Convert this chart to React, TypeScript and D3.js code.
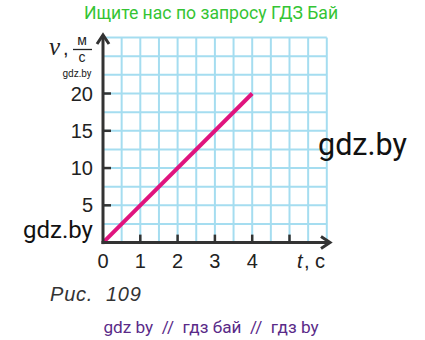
import React from "react";
import * as d3 from "d3";

const tValues = [0, 4];
const vValues = [0, 20];
const xTickLabels = [0, 1, 2, 3, 4];
const xTickMarks = [1, 2, 3, 4, 5];
const yTickValues = [5, 10, 15, 20];
const gridStep = [0.5, 2.5];
const xDomain = [0, 6];
const yDomain = [0, 27.5];

const W = 425;
const H = 340;

export default function App() {
  const x = d3.scaleLinear().domain(xDomain).range([103, 326.8]);
  const y = d3.scaleLinear().domain(yDomain).range([242.6, 37.6]);
  const vLinesX = d3.range(xDomain[0] + gridStep[0], xDomain[1] + 1e-6, gridStep[0]);
  const hLinesY = d3.range(yDomain[0] + gridStep[1], yDomain[1] + 1e-6, gridStep[1]);
  const line = d3
    .line<number>()
    .x((_, i) => x(tValues[i]))
    .y((d) => y(d));
  const x0 = x(0);
  const y0 = y(0);
  const grid = "#a5ddf0";
  const axis = "#333333";
  const tickFont = "'Liberation Sans', Arial, sans-serif";
  return (
    <svg
      width={W}
      height={H}
      style={{ position: "absolute", left: 0, top: 0, background: "#fff" }}
    >
      <rect width={W} height={H} fill="#fff" />
      <text
        x={211}
        y={19}
        textAnchor="middle"
        fontFamily="Roboto, sans-serif"
        fontSize={17.6}
        fill="#34c434"
      >
        Ищите нас по запросу ГДЗ Бай
      </text>
      {/* grid */}
      {vLinesX.map((v) => (
        <line key={"v" + v} x1={x(v)} x2={x(v)} y1={y(yDomain[1])} y2={y0} stroke={grid} strokeWidth={2} />
      ))}
      {hLinesY.map((v) => (
        <line key={"h" + v} x1={x0} x2={x(xDomain[1])} y1={y(v)} y2={y(v)} stroke={grid} strokeWidth={2} />
      ))}
      {/* data line */}
      <path d={line(vValues) || ""} stroke="#e0147e" strokeWidth={4} fill="none" strokeLinecap="butt" />
      {/* axes */}
      <line x1={x0} x2={x0} y1={y0 + 1.5} y2={35} stroke={axis} strokeWidth={3} />
      <path d={`M${x0 - 6},${44} L${x0},${35} L${x0 + 6},${44}`} stroke={axis} strokeWidth={3} fill="none" />
      <line x1={x0 - 1.5} x2={329} y1={y0} y2={y0} stroke={axis} strokeWidth={3} />
      <path d={`M${321},${y0 - 6} L${330},${y0} L${321},${y0 + 6}`} stroke={axis} strokeWidth={3} fill="none" />
      {yTickValues.map((v) => (
        <line key={"yt" + v} x1={x0} x2={x0 + 8} y1={y(v)} y2={y(v)} stroke={axis} strokeWidth={2.5} />
      ))}
      {xTickMarks.map((v) => (
        <line key={"xt" + v} x1={x(v)} x2={x(v)} y1={y0} y2={y0 - 8} stroke={axis} strokeWidth={2.5} />
      ))}
      {yTickValues.map((v) => (
        <text key={"yl" + v} x={93} y={y(v) + 7} textAnchor="end" fontFamily={tickFont} fontSize={20} fill="#222">
          {v}
        </text>
      ))}
      {xTickLabels.map((v) => (
        <text key={"xl" + v} x={x(v)} y={268} textAnchor="middle" fontFamily={tickFont} fontSize={20} fill="#222">
          {v}
        </text>
      ))}
      {/* y axis label */}
      <text x={49} y={55} fontFamily="'Liberation Serif', serif" fontStyle="italic" fontSize={25} fill="#222">
        v
      </text>
      <text x={63} y={55} fontFamily={tickFont} fontSize={20} fill="#222">
        ,
      </text>
      <text x={82} y={45} textAnchor="middle" fontFamily={tickFont} fontSize={14} fill="#222">
        м
      </text>
      <line x1={73} x2={92} y1={49.5} y2={49.5} stroke="#222" strokeWidth={1.3} />
      <text x={82} y={62} textAnchor="middle" fontFamily={tickFont} fontSize={14} fill="#222">
        с
      </text>
      <text x={77} y={77} textAnchor="middle" fontFamily="Roboto, sans-serif" fontSize={10} fill="#222">
        gdz.by
      </text>
      {/* x axis label */}
      <text x={297} y={268} fontFamily={tickFont} fontStyle="italic" fontSize={20} fill="#222">
        t
      </text>
      <text x={304} y={268} fontFamily={tickFont} fontSize={20} fill="#222">
        , с
      </text>
      {/* watermarks */}
      <text x={318} y={155} fontFamily="Roboto, sans-serif" fontSize={30.5} fill="#111">
        gdz.by
      </text>
      <text x={23} y={238} fontFamily="Roboto, sans-serif" fontSize={24} fill="#111">
        gdz.by
      </text>
      <text
        x={50}
        y={301}
        fontFamily={tickFont}
        fontStyle="italic"
        fontSize={20}
        fill="#333"
        letterSpacing={0.8}
        style={{ whiteSpace: "pre" }}
      >
        {"Рис.  109"}
      </text>
      <text
        x={211}
        y={333}
        textAnchor="middle"
        fontFamily="Roboto, sans-serif"
        fontSize={17.2}
        fill="#5a2a88"
        style={{ whiteSpace: "pre" }}
      >
        {"gdz by  //  гдз бай  //  гдз by"}
      </text>
    </svg>
  );
}
